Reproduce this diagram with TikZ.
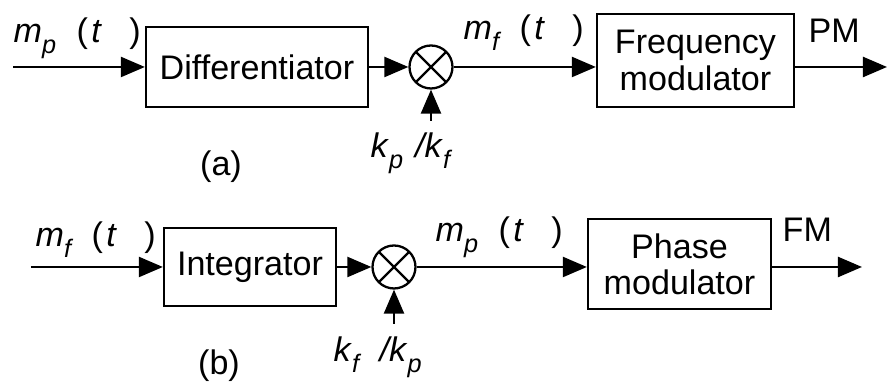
\documentclass[tikz,border=0pt]{standalone}
\usepackage{fontspec}
\setmainfont{Liberation Sans}
\usepackage{tikz}
\usetikzlibrary{arrows.meta,positioning}

\newcommand{\lsub}[1]{\raisebox{-.3em}{\fontsize{7.2}{7.2}\selectfont\itshape #1}}
\newcommand{\sig}[2]{\textit{#1}\lsub{#2}\hspace{.6em}(\hspace{.1em}\textit{t}\hspace{.8em})}

\begin{document}
\begin{tikzpicture}[
  every node/.style={font=\fontsize{9.7}{10.3}\selectfont},
  blk/.style={draw, line width=0.65pt, minimum width=#1, inner sep=0pt, align=center},
  mult/.style={draw, circle, line width=0.65pt, minimum size=0.43cm, inner sep=0pt,
               path picture={\draw[line width=0.65pt]
                 (path picture bounding box.north east) -- (path picture bounding box.south west)
                 (path picture bounding box.north west) -- (path picture bounding box.south east);}},
  arr/.style={-{Triangle[length=0.24cm, width=0.2cm]}, line width=0.65pt},
  lbl/.style={anchor=base west, inner sep=0pt},
]
\useasboundingbox (0,0) rectangle (8.88,3.85);

%% ── (a) PM from a frequency modulator ───────────────────────────────────
\coordinate (inA) at (0.13, 3.18);
\node[blk=2.22cm, minimum height=0.80cm] (Diff)  at (2.57, 3.18) {Differentiator};
\node[mult]                              (MulA)  at (4.31, 3.18) {};
\node[blk=1.97cm, minimum height=0.93cm] (FMod)  at (6.955, 3.245) {Frequency\\modulator};
\coordinate (gainA) at (4.31, 2.64);
\coordinate (outA)  at (8.87, 3.18);

\draw[arr] (inA)  -- (Diff);
\draw[arr] (Diff) -- (MulA);
\draw[arr] (gainA) -- (MulA.south);
\draw[arr] (MulA) -- (FMod.west |- MulA);
\draw[arr] (FMod.east |- MulA) -- (outA);

\node[lbl] (mpA) at (0.13, 3.42) {\sig{m}{p}};
\node[lbl] (mfA) at (4.63, 3.45) {\sig{m}{f}};
\node[lbl] (PM)  at (8.08, 3.42) {PM};
\node[lbl] (kA)  at (3.70, 2.27) {\textit{k}\lsub{p}\hspace{.35em}\textit{/k}\lsub{f}};
\node[anchor=base, inner sep=0pt] (capA) at (2.21, 2.09) {(a)};

%% ── (b) FM from a phase modulator ───────────────────────────────────────
\coordinate (inB) at (0.31, 1.18);
\node[blk=1.72cm, minimum height=0.78cm] (Integ) at (2.50, 1.18) {Integrator};
\node[mult]                              (MulB)  at (3.94, 1.18) {};
\node[blk=1.83cm, minimum height=0.90cm] (PMod)  at (6.795, 1.21) {Phase\\modulator};
\coordinate (gainB) at (3.94, 0.61);
\coordinate (outB)  at (8.62, 1.18);

\draw[arr] (inB)   -- (Integ);
\draw[arr] (Integ) -- (MulB);
\draw[arr] (gainB) -- (MulB.south);
\draw[arr] (MulB) -- (PMod.west |- MulB);
\draw[arr] (PMod.east |- MulB) -- (outB);

\node[lbl] (mfB) at (0.35, 1.38) {\sig{m}{f}};
\node[lbl] (mpB) at (4.35, 1.43) {\sig{m}{p}};
\node[lbl] (FM)  at (7.82, 1.43) {FM};
\node[lbl] (kB)  at (3.33, 0.23) {\textit{k}\lsub{f}\hspace{.6em}\textit{/k}\lsub{p}};
\node[anchor=base, inner sep=0pt] (capB) at (2.19, 0.10) {(b)};
\end{tikzpicture}
\end{document}
